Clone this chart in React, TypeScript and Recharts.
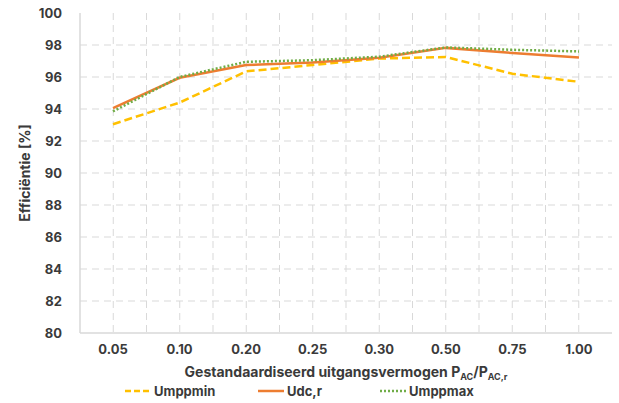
import { CartesianGrid, Line, LineChart, XAxis, YAxis } from 'recharts'

const categories = ['0.05', '0.10', '0.20', '0.25', '0.30', '0.50', '0.75', '1.00']
const umppmin = [93.05, 94.4, 96.35, 96.75, 97.15, 97.25, 96.2, 95.7]
const udcr = [94.05, 95.95, 96.75, 96.9, 97.2, 97.82, 97.5, 97.22]
const umppmax = [93.85, 96.0, 96.95, 97.05, 97.27, 97.85, 97.7, 97.6]
const yTicks = [80, 82, 84, 86, 88, 90, 92, 94, 96, 98, 100]

const data = categories.map((c, i) => ({
  name: c,
  umppmin: umppmin[i],
  udcr: udcr[i],
  umppmax: umppmax[i],
}))

const FONT = 'Inter, "Open Sans", sans-serif'
const TEXT = '#3a3a3a'
const GRID = '#d9d9d9'
const YELLOW = '#FFC000'
const ORANGE = '#ED7D31'
const GREEN = '#70AD47'

function LegendItem({ color, dash, label }: { color: string; dash?: string; label: string }) {
  return (
    <div style={{ display: 'flex', alignItems: 'center' }}>
      <svg width={26} height={6}>
        <line x1={0} y1={3} x2={26} y2={3} stroke={color} strokeWidth={2.5} strokeDasharray={dash} />
      </svg>
      <span style={{ marginLeft: 3 }}>{label}</span>
    </div>
  )
}

export default function App() {
  return (
    <div style={{ position: 'absolute', left: 0, top: 0, width: 619, height: 403, background: '#fff', fontFamily: FONT }}>
      <LineChart width={619} height={403} data={data} margin={{ top: 13, right: 7, left: 0, bottom: 40 }}>
        <CartesianGrid
          stroke={GRID}
          strokeDasharray="7 5"
          verticalCoordinatesGenerator={({ offset }: any) =>
            Array.from({ length: 15 }, (_, i) => offset.left + ((i + 1) * offset.width) / 16)
          }
          horizontalValues={[82, 84, 86, 88, 90, 92, 94, 96, 98]}
        />
        <XAxis
          dataKey="name"
          height={30}
          padding={{ left: 33, right: 33 }}
          axisLine={{ stroke: GRID, strokeWidth: 1.5 }}
          tickLine={false}
          tickMargin={6}
          tick={{ fill: TEXT, fontSize: 13, fontWeight: 700, fontFamily: FONT }}
          label={{
            content: () => (
              <text x={346} y={377} textAnchor="middle" fill={TEXT} fontSize={14} fontWeight={700} fontFamily={FONT}>
                Gestandaardiseerd uitgangsvermogen P
                <tspan fontSize={9} dy={3}>AC</tspan>
                <tspan dy={-3}>/P</tspan>
                <tspan fontSize={9} dy={3}>AC,r</tspan>
              </text>
            ),
          }}
        />
        <XAxis xAxisId="top" dataKey="name" orientation="top" height={0} tick={false} tickLine={false} axisLine={{ stroke: GRID, strokeWidth: 1.5 }} />
        <YAxis
          domain={[80, 100]}
          ticks={yTicks}
          width={80}
          axisLine={{ stroke: GRID, strokeWidth: 1.5 }}
          tickLine={false}
          tickMargin={12}
          interval={0}
          tick={{ fill: TEXT, fontSize: 13, fontWeight: 700, fontFamily: FONT }}
          label={{
            content: () => (
              <text x={24} y={173} transform="rotate(-90 24 173)" textAnchor="middle" dominantBaseline="central" fill={TEXT} fontSize={14} fontWeight={700} fontFamily={FONT}>
                Efficiëntie [%]
              </text>
            ),
          }}
        />
        <YAxis yAxisId="right" orientation="right" width={0} domain={[80, 100]} tick={false} tickLine={false} axisLine={{ stroke: GRID, strokeWidth: 1.5 }} />
        <Line dataKey="umppmin" stroke={YELLOW} strokeWidth={2.5} strokeDasharray="8 4" dot={false} isAnimationActive={false} />
        <Line dataKey="udcr" stroke={ORANGE} strokeWidth={2.5} dot={false} isAnimationActive={false} />
        <Line dataKey="umppmax" stroke={GREEN} strokeWidth={2.5} strokeDasharray="2 2" dot={false} isAnimationActive={false} />
      </LineChart>
      <div style={{ position: 'absolute', top: 383, left: 0, width: 619, height: 16, fontSize: 13, fontWeight: 700, color: TEXT }}>
        <div style={{ position: 'absolute', left: 125 }}>
          <LegendItem color={YELLOW} dash="6 3" label="Umppmin" />
        </div>
        <div style={{ position: 'absolute', left: 258 }}>
          <LegendItem color={ORANGE} label="Udc,r" />
        </div>
        <div style={{ position: 'absolute', left: 380 }}>
          <LegendItem color={GREEN} dash="2 2" label="Umppmax" />
        </div>
      </div>
    </div>
  )
}
